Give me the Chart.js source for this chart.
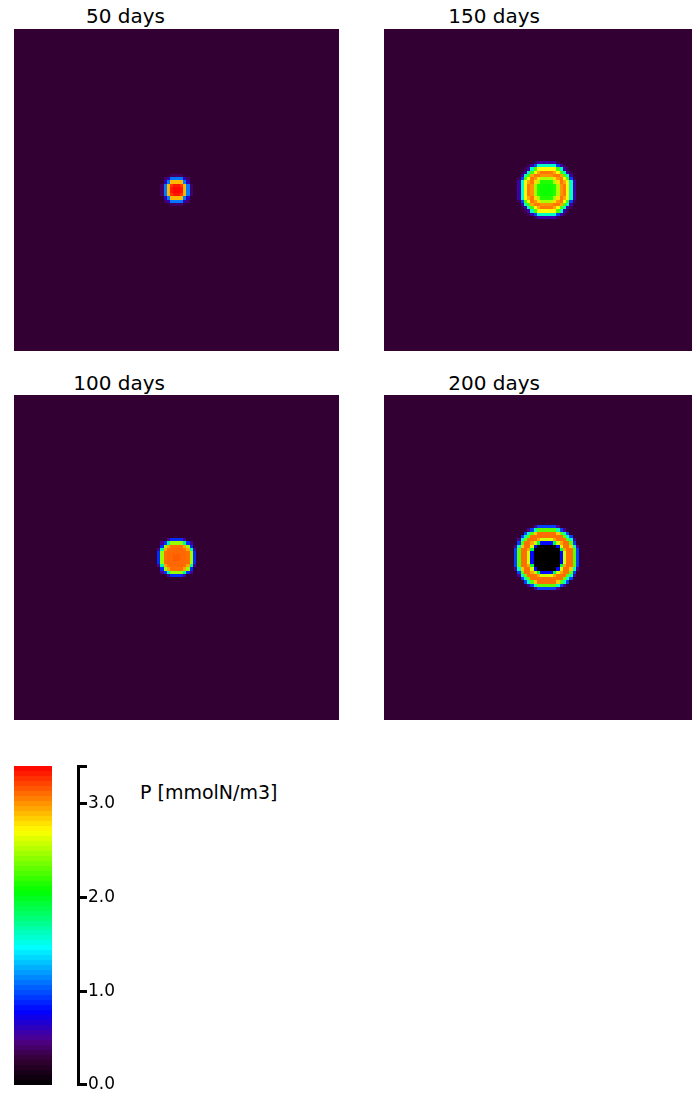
<!DOCTYPE html>
<html>
<head>
<meta charset="utf-8">
<script src="https://cdn.jsdelivr.net/npm/chart.js@4.4.1/dist/chart.umd.min.js"></script>
<style>
  html, body { margin: 0; padding: 0; background: #fff; width: 692px; height: 1096px; overflow: hidden; position: relative; }
  .box { position: absolute; }
  canvas { display: block; }
  .title { position: absolute; font-family: 'DejaVu Sans', sans-serif; font-size: 20px; color: #000; white-space: nowrap; line-height: 1; text-align: right; }
  .unit { position: absolute; font-family: 'DejaVu Sans', sans-serif; font-size: 19px; color: #000; white-space: nowrap; line-height: 1; }
</style>
</head>
<body>
<div class="box" style="left:14px;top:29px;width:325px;height:322px"><canvas id="p50"></canvas></div>
<div class="box" style="left:384px;top:29px;width:325px;height:322px"><canvas id="p150"></canvas></div>
<div class="box" style="left:14px;top:395px;width:325px;height:325px"><canvas id="p100"></canvas></div>
<div class="box" style="left:384px;top:395px;width:325px;height:325px"><canvas id="p200"></canvas></div>
<div class="box" style="left:0px;top:755px;width:124px;height:341px"><canvas id="cbar"></canvas></div>

<div class="title" id="t50" style="right:527px;top:6px"></div>
<div class="title" id="t150" style="right:152px;top:6px"></div>
<div class="title" id="t100" style="right:527px;top:373px"></div>
<div class="title" id="t200" style="right:152px;top:373px"></div>
<div class="unit" id="unit" style="left:140px;top:783px"></div>

<script>
// Phytoplankton concentration P [mmolN/m3] on a 100 x 100 grid.
// Each patch is radially symmetric; profiles list P in half-cell radius steps
// outward from the patch centre, and cells beyond the profile take the background value.
const GRID_N = 100;
const PATCH_CENTRE = [50, 50];
const RADIUS_STEP = 0.5;
const BACKGROUND_P = 0.27;

const profile50  = [3.38, 3.38, 3.36, 3.34, 3.25, 2.90, 2.00, 1.10, 0.60, 0.38];
const profile100 = [3.15, 3.15, 3.12, 3.12, 3.12, 3.12, 3.12, 3.10, 2.95, 2.45, 1.70, 0.90, 0.50];
const profile150 = [2.10, 2.10, 2.10, 2.10, 2.12, 2.15, 2.25, 2.50, 2.80, 3.00, 3.08, 3.08, 2.95, 2.70, 2.25, 1.60, 0.95, 0.55, 0.35];
const profile200 = [0.00, 0.00, 0.00, 0.00, 0.00, 0.00, 0.00, 0.00, 0.05, 0.80, 1.90, 2.60, 2.95, 3.10, 3.10, 3.10, 2.85, 2.30, 1.60, 0.95, 0.50];

const panelTitles = ['50 days', '150 days', '100 days', '200 days'];
const panelIds    = ['p50', 'p150', 'p100', 'p200'];
const panelProfiles = [profile50, profile150, profile100, profile200];

// colour bar
const cbarMin = 0.0;
const cbarMax = 3.4;
const cbarTicks = [0.0, 1.0, 2.0, 3.0];
const cbarTickLabels = ['0.0', '1.0', '2.0', '3.0'];
const cbarBands = 64;
const unitLabel = 'P [mmolN/m3]';

// rainbow palette: value -> rgb
const PALETTE = [
  [0.00, [0, 0, 0]],
  [0.27, [51, 0, 51]],
  [0.48, [80, 0, 140]],
  [0.78, [0, 0, 255]],
  [1.46, [0, 255, 255]],
  [2.07, [0, 255, 0]],
  [2.71, [255, 255, 0]],
  [3.40, [255, 0, 0]]
];

function colourFor(v) {
  if (v <= PALETTE[0][0]) return 'rgb(' + PALETTE[0][1].join(',') + ')';
  for (let i = 1; i < PALETTE.length; i++) {
    const [v1, c1] = PALETTE[i];
    if (v <= v1) {
      const [v0, c0] = PALETTE[i - 1];
      const t = (v - v0) / (v1 - v0);
      const c = c0.map((a, k) => Math.round(a + (c1[k] - a) * t));
      return 'rgb(' + c.join(',') + ')';
    }
  }
  return 'rgb(' + PALETTE[PALETTE.length - 1][1].join(',') + ')';
}

function fieldFromProfile(profile) {
  const pts = [];
  for (let i = 0; i < GRID_N; i++) {
    for (let j = 0; j < GRID_N; j++) {
      const x = i + 0.5, y = j + 0.5;
      const d = Math.hypot(x - PATCH_CENTRE[0], y - PATCH_CENTRE[1]);
      const k = Math.floor(d / RADIUS_STEP);
      const v = k < profile.length ? profile[k] : BACKGROUND_P;
      pts.push({ x, y, v });
    }
  }
  return pts;
}

// fills each data point as a rectangular cell using the chart's scales
const cellPlugin = {
  id: 'cells',
  beforeDatasetsDraw(chart) {
    const { ctx } = chart;
    const xs = chart.scales.x, ys = chart.scales.y;
    ctx.save();
    chart.data.datasets.forEach(ds => {
      const hw = ds.cellW / 2, hh = ds.cellH / 2;
      ds.data.forEach(p => {
        const l = Math.round(xs.getPixelForValue(p.x - hw));
        const r = Math.round(xs.getPixelForValue(p.x + hw));
        const t = Math.round(ys.getPixelForValue(p.y + hh));
        const b = Math.round(ys.getPixelForValue(p.y - hh));
        ctx.fillStyle = colourFor(p.v);
        ctx.fillRect(l, t, r - l, b - t);
      });
    });
    ctx.restore();
  }
};

function fitCanvas(id) {
  const c = document.getElementById(id);
  const box = c.parentElement;
  c.width = box.clientWidth;
  c.height = box.clientHeight;
  c.style.width = box.clientWidth + 'px';
  c.style.height = box.clientHeight + 'px';
  return c;
}

panelIds.forEach((id, n) => {
  const c = fitCanvas(id);
  new Chart(c, {
    type: 'scatter',
    data: { datasets: [{ data: fieldFromProfile(panelProfiles[n]), cellW: 1, cellH: 1, pointRadius: 0, pointHoverRadius: 0 }] },
    options: {
      responsive: false,
      animation: false,
      events: [],
      normalized: true,
      layout: { padding: 0, autoPadding: false },
      scales: {
        x: { type: 'linear', min: 0, max: GRID_N, display: false },
        y: { type: 'linear', min: 0, max: GRID_N, display: false }
      },
      plugins: { legend: { display: false }, tooltip: { enabled: false }, title: { display: false } }
    },
    plugins: [cellPlugin]
  });
  document.getElementById('t' + id.slice(1)).textContent = panelTitles[n];
});

// colour bar: banded strip with a labelled value axis on its right
(function () {
  const c = fitCanvas('cbar');
  const step = (cbarMax - cbarMin) / cbarBands;
  const bands = [];
  for (let k = 0; k < cbarBands; k++) {
    const mid = cbarMin + (k + 0.5) * step;
    bands.push({ x: 0.5, y: mid, v: mid });
  }
  new Chart(c, {
    type: 'scatter',
    data: { datasets: [{ data: bands, cellW: 1, cellH: step, pointRadius: 0, pointHoverRadius: 0 }] },
    options: {
      responsive: false,
      animation: false,
      events: [],
      layout: { padding: { left: 14, top: 10, bottom: 11, right: 0 }, autoPadding: false },
      scales: {
        x: { type: 'linear', min: 0, max: 64 / 38, display: false },
        y: {
          type: 'linear', position: 'right', min: cbarMin, max: cbarMax,
          afterFit(scale) { scale.width = 46; },
          afterBuildTicks(scale) {
            scale.ticks = cbarTicks.concat([cbarMax]).map(v => ({ value: v }));
          },
          ticks: {
            color: '#000',
            padding: 1,
            font: { family: 'DejaVu Sans', size: 17 },
            callback(value) {
              const i = cbarTicks.indexOf(value);
              return i >= 0 ? cbarTickLabels[i] : '';
            }
          },
          grid: { display: true, drawOnChartArea: false, drawTicks: true, tickLength: 9, color: '#000', lineWidth: 3 },
          border: { display: true, color: '#000', width: 3 }
        }
      },
      plugins: { legend: { display: false }, tooltip: { enabled: false } }
    },
    plugins: [cellPlugin]
  });
  document.getElementById('unit').textContent = unitLabel;
})();
</script>
</body>
</html>
